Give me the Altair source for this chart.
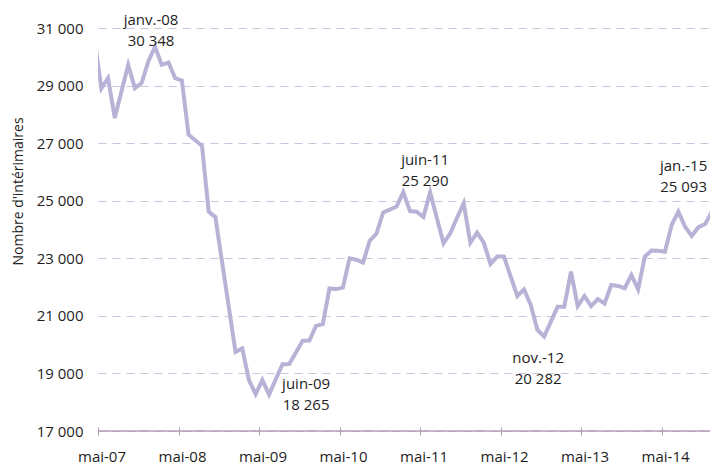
import altair as alt
import pandas as pd

# Monthly values, avr-07 .. jan.-15 (first point lies just before the axis start)
first_month_index = -1  # avr-07 (0 = mai-07)
values = [
    30600,                                                        # avr-07
    28900, 29260, 27870, 28800, 29720, 28910, 29090, 29840,       # mai-07 .. déc-07
    30348, 29720, 29800, 29260,                                   # janv-08 .. avr-08
    29180, 27290, 27100, 26910, 24620, 24430, 22860, 21300,       # mai-08 .. déc-08
    19750, 19870, 18770, 18280,                                   # janv-09 .. avr-09
    18770, 18265, 18800, 19320, 19330, 19730, 20135, 20140,       # mai-09 .. déc-09
    20650, 20715, 21950, 21930,                                   # janv-10 .. avr-10
    21980, 23000, 22950, 22850, 23610, 23850, 24590, 24690,       # mai-10 .. déc-10
    24800, 25300, 24640, 24620,                                   # janv-11 .. avr-11
    24430, 25290, 24400, 23520, 23870, 24400, 24910, 23540,       # mai-11 .. déc-11
    23890, 23540, 22800, 23060,                                   # janv-12 .. avr-12
    23060, 22370, 21690, 21920, 21380, 20510, 20282, 20800,       # mai-12 .. déc-12
    21320, 21320, 22540, 21340,                                   # janv-13 .. avr-13
    21690, 21340, 21580, 21430, 22070, 22040, 21960, 22420,       # mai-13 .. déc-13
    21920, 23060, 23270, 23260,                                   # janv-14 .. avr-14
    23230, 24160, 24620, 24100, 23780, 24080, 24190, 24620,       # mai-14 .. déc-14
    25093,                                                        # janv-15
]

x_tick_values = [0, 12, 24, 36, 48, 60, 72, 84]
x_tick_labels = ["mai-07", "mai-08", "mai-09", "mai-10", "mai-11", "mai-12", "mai-13", "mai-14"]
y_tick_values = [17000, 19000, 21000, 23000, 25000, 27000, 29000, 31000]

ann_month = [8, 25, 49, 66, 92]
ann_value = [30348, 18265, 25290, 20282, 25093]
ann_text = ["janv.-08\n30 348", "juin-09\n18 265", "juin-11\n25 290", "nov.-12\n20 282", "jan.-15\n25 093"]

LINE = "#b8b3d6"
GRID = "#c9c5df"
AXIS = "#b49cb4"
TEXT = "#1e1e1e"
FONT = "Open Sans"

PLOT_W = 612
X_END = 92.5 * PLOT_W / 620.6  # keeps ~6.7 px per month; the last stretch is cut at the edge

df = pd.DataFrame({
    "m": [first_month_index + i + 0.5 for i in range(len(values))],
    "v": values,
})

x_scale = alt.Scale(domain=[0, X_END], nice=False, zero=False)
y_scale = alt.Scale(domain=[17000, 31000], nice=False, zero=False)

label_expr = "[" + ",".join(f"'{t}'" for t in x_tick_labels) + "][round(datum.value/12)]"

x_enc = alt.X(
    "m:Q", scale=x_scale, title=None,
    axis=alt.Axis(
        values=x_tick_values, labelExpr=label_expr, domain=False, grid=False,
        ticks=True, tickSize=8, tickColor=AXIS, tickWidth=1, offset=-4,
        labelPadding=14.5, labelFont=FONT, labelFontSize=15, labelColor=TEXT,
        labelBaseline="top", labelFlush=False, labelAlign="center", labelOffset=3.5,
    ),
)
y_enc = alt.Y(
    "v:Q", scale=y_scale,
    axis=alt.Axis(
        values=y_tick_values,
        labelExpr="replace(format(datum.value, ','), ',', ' ')",
        domain=False, ticks=False, tickSize=0, grid=True, gridDash=[8, 6],
        gridColor=GRID, gridWidth=1, labelPadding=15, labelFont=FONT,
        labelFontSize=15, labelColor=TEXT,
        title="Nombre d'intérimaires", titleFont=FONT, titleFontSize=14,
        titleFontWeight="normal", titleColor=TEXT, titleX=-80, titleY=163,
        titleAlign="center", titleBaseline="middle", titleAngle=270,
    ),
)

line = alt.Chart(df).mark_line(color=LINE, strokeWidth=4, clip=True).encode(x=x_enc, y=y_enc)

axis_rule = alt.Chart(pd.DataFrame({"v": [y_tick_values[0]]})).mark_rule(
    color=AXIS, strokeWidth=1.3
).encode(y=alt.Y("v:Q", scale=y_scale))

ann_df = pd.DataFrame({"m": [k + 0.5 for k in ann_month], "v": ann_value, "t": ann_text})
# (dx, dy) of the first text line's centre from the annotated point
offsets = [(-4, -27), (37, -10.5), (-5, -32.5), (-6, 21.5), (-35, -32.5)]
ann_layers = []
for i, (dx, dy) in enumerate(offsets):
    ann_layers.append(
        alt.Chart(ann_df.iloc[[i]]).mark_text(
            font=FONT, fontSize=15, color=TEXT, align="center", baseline="middle",
            lineBreak="\n", lineHeight=21, dx=dx, dy=dy,
        ).encode(
            x=alt.X("m:Q", scale=x_scale),
            y=alt.Y("v:Q", scale=y_scale),
            text="t:N",
        )
    )

chart = alt.layer(line, axis_rule, *ann_layers).properties(
    width=PLOT_W, height=403,
    autosize=alt.AutoSizeParams(type="none"),
    padding={"left": 90, "top": 20, "right": 0, "bottom": 38},
    background="white",
).configure_view(stroke=None)

chart.save("out.html", embed_options={"renderer": "svg", "actions": False})
